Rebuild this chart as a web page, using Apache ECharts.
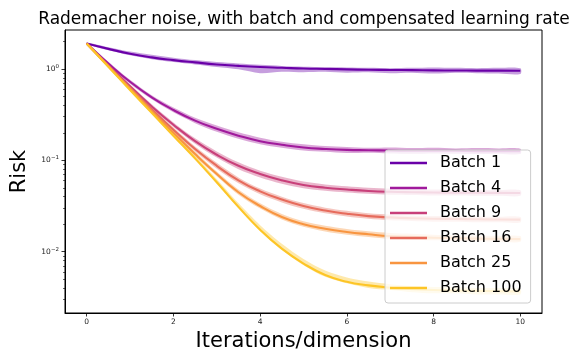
<!DOCTYPE html>
<html>
<head>
<meta charset="utf-8">
<script src="https://cdn.jsdelivr.net/npm/echarts@6/dist/echarts.min.js"></script>
<style>
  html, body { margin: 0; padding: 0; background: #fff; }
  #chart { width: 573px; height: 351px; }
</style>
</head>
<body>
<div id="chart"></div>
<script>
// Iterations per dimension at which the risk is recorded
const iterations = [0, 0.5, 1, 1.5, 2, 2.5, 3, 3.5, 4, 4.5, 5, 5.5, 6, 6.5, 7, 7.5, 8, 8.5, 9, 9.5, 10];

const batchLabels = ['Batch 1', 'Batch 4', 'Batch 9', 'Batch 16', 'Batch 25', 'Batch 100'];
const batchColors = ['#6a00a8', '#a01a9c', '#c8407a', '#e66b5c', '#f89540', '#fdc526'];

// Mean risk curves, one per batch size
const risk1   = [1.90, 1.66, 1.47, 1.34, 1.25, 1.18, 1.12, 1.08, 1.05, 1.03, 1.01, 1.00, 0.99, 0.98, 0.975, 0.97, 0.965, 0.962, 0.96, 0.958, 0.955];
const risk4   = [1.90, 1.148, 0.724, 0.490, 0.355, 0.272, 0.221, 0.186, 0.162, 0.148, 0.138, 0.133, 0.130, 0.129, 0.128, 0.127, 0.127, 0.127, 0.126, 0.126, 0.126];
const risk9   = [1.90, 1.096, 0.646, 0.389, 0.245, 0.162, 0.115, 0.0871, 0.0708, 0.0603, 0.0537, 0.0501, 0.0479, 0.0462, 0.0452, 0.0447, 0.0444, 0.0442, 0.0441, 0.0440, 0.0439];
const risk16  = [1.90, 1.084, 0.624, 0.363, 0.216, 0.133, 0.0871, 0.0603, 0.0457, 0.0372, 0.0316, 0.0282, 0.0260, 0.0245, 0.0237, 0.0232, 0.0229, 0.0228, 0.0226, 0.0225, 0.0224];
const risk25  = [1.90, 1.072, 0.610, 0.347, 0.200, 0.117, 0.0708, 0.0447, 0.0316, 0.0240, 0.0200, 0.0178, 0.0164, 0.0155, 0.0148, 0.0145, 0.0142, 0.0140, 0.0139, 0.0138, 0.0137];
const risk100 = [1.90, 1.059, 0.589, 0.331, 0.186, 0.105, 0.0575, 0.0309, 0.0174, 0.0108, 0.00741, 0.00556, 0.00468, 0.00427, 0.00403, 0.00389, 0.00380, 0.00376, 0.00372, 0.00370, 0.00367];

// Spread of the simulated runs (lower / upper envelope)
const low1    = [1.86, 1.60, 1.41, 1.28, 1.19, 1.12, 1.05, 0.99, 0.90, 0.93, 0.92, 0.93, 0.91, 0.92, 0.90, 0.91, 0.89, 0.91, 0.90, 0.89, 0.88];
const high1   = [1.95, 1.73, 1.55, 1.43, 1.33, 1.25, 1.19, 1.15, 1.11, 1.08, 1.06, 1.05, 1.04, 1.03, 1.02, 1.03, 1.04, 1.03, 1.02, 1.03, 1.02];
const low4    = [1.86, 1.10, 0.69, 0.465, 0.335, 0.255, 0.205, 0.172, 0.150, 0.137, 0.128, 0.124, 0.120, 0.121, 0.119, 0.118, 0.119, 0.118, 0.117, 0.118, 0.117];
const high4   = [1.94, 1.20, 0.76, 0.515, 0.378, 0.292, 0.240, 0.203, 0.177, 0.160, 0.150, 0.143, 0.140, 0.137, 0.138, 0.136, 0.137, 0.135, 0.136, 0.135, 0.134];
const low9    = [1.86, 1.06, 0.62, 0.371, 0.232, 0.152, 0.107, 0.080, 0.065, 0.0555, 0.0495, 0.0465, 0.0445, 0.0430, 0.0420, 0.0418, 0.0413, 0.0412, 0.0410, 0.0410, 0.0408];
const high9   = [1.94, 1.13, 0.675, 0.410, 0.260, 0.174, 0.125, 0.095, 0.077, 0.066, 0.0585, 0.0545, 0.0520, 0.0500, 0.0490, 0.0482, 0.0478, 0.0475, 0.0476, 0.0472, 0.0470];
const low16   = [1.86, 1.05, 0.60, 0.347, 0.205, 0.125, 0.081, 0.056, 0.0425, 0.0346, 0.0294, 0.0263, 0.0243, 0.0229, 0.0221, 0.0217, 0.0213, 0.0213, 0.0210, 0.0210, 0.0209];
const high16  = [1.94, 1.12, 0.65, 0.381, 0.229, 0.142, 0.094, 0.065, 0.049, 0.040, 0.0340, 0.0303, 0.0280, 0.0263, 0.0254, 0.0249, 0.0246, 0.0244, 0.0243, 0.0241, 0.0240];
const low25   = [1.86, 1.04, 0.590, 0.334, 0.191, 0.111, 0.0668, 0.0420, 0.0296, 0.0225, 0.0187, 0.0166, 0.0153, 0.0145, 0.0138, 0.0135, 0.0133, 0.0131, 0.0130, 0.0129, 0.0128];
const high25  = [1.94, 1.10, 0.632, 0.362, 0.210, 0.124, 0.0752, 0.0478, 0.0338, 0.0258, 0.0215, 0.0192, 0.0177, 0.0167, 0.0160, 0.0157, 0.0153, 0.0151, 0.0150, 0.0149, 0.0148];
const low100  = [1.86, 1.03, 0.572, 0.320, 0.179, 0.101, 0.0553, 0.0297, 0.0167, 0.0104, 0.0071, 0.0053, 0.0045, 0.0040, 0.0038, 0.0036, 0.0035, 0.0035, 0.0034, 0.0034, 0.0034];
const high100 = [1.94, 1.09, 0.608, 0.345, 0.196, 0.112, 0.0622, 0.0340, 0.0195, 0.0122, 0.0083, 0.0062, 0.0052, 0.0047, 0.0044, 0.0042, 0.0041, 0.0041, 0.0040, 0.0040, 0.0039];

// Axis ticks
const xTicks = [0, 2, 4, 6, 8, 10];
const yTicks = [0.01, 0.1, 1];
const yMinorTicks = [0.003, 0.004, 0.005, 0.006, 0.007, 0.008, 0.009,
                     0.02, 0.03, 0.04, 0.05, 0.06, 0.07, 0.08, 0.09,
                     0.2, 0.3, 0.4, 0.5, 0.6, 0.7, 0.8, 0.9, 2];

const means = [risk1, risk4, risk9, risk16, risk25, risk100];
const lows  = [low1, low4, low9, low16, low25, low100];
const highs = [high1, high4, high9, high16, high25, high100];

const FONT = 'DejaVu Sans';
const Y_MIN = 0.00213, Y_MAX = 2.67;

function hexToRgba(hex, a) {
  const n = parseInt(hex.slice(1), 16);
  return 'rgba(' + ((n >> 16) & 255) + ',' + ((n >> 8) & 255) + ',' + (n & 255) + ',' + a + ')';
}

// Shaded envelope drawn as one polygon through the axis scales
function bandSeries(k) {
  const rows = iterations.map((x, i) => [x, lows[k][i], highs[k][i]]);
  return {
    type: 'custom',
    name: batchLabels[k] + ' spread',
    coordinateSystem: 'cartesian2d',
    silent: true,
    clip: true,
    z: 2,
    encode: { x: 0, y: [1, 2] },
    data: rows,
    renderItem(params, api) {
      if (params.dataIndex !== 0) return null;
      const upper = rows.map(r => api.coord([r[0], r[2]]));
      const lower = rows.map(r => api.coord([r[0], r[1]])).reverse();
      return {
        type: 'polygon',
        shape: { points: upper.concat(lower), smooth: 0.3 },
        style: { fill: hexToRgba(batchColors[k], 0.38) }
      };
    }
  };
}

function lineSeries(k) {
  return {
    type: 'line',
    name: batchLabels[k],
    data: iterations.map((x, i) => [x, means[k][i]]),
    showSymbol: false,
    symbol: 'none',
    smooth: 0.5,
    z: 3,
    lineStyle: { color: batchColors[k], width: 2.1 },
    itemStyle: { color: batchColors[k] },
    emphasis: { disabled: true }
  };
}

const series = [];
for (let k = 0; k < batchLabels.length; k++) {
  series.push(bandSeries(k));
  series.push(lineSeries(k));
}

function expLabel(v) {
  const e = Math.round(Math.log10(v));
  const s = e < 0 ? '\u2212' + (-e) : String(e);
  return '{b|10}{e|' + s + '}';
}

const chart = echarts.init(document.getElementById('chart'), null, { renderer: 'canvas' });
chart.setOption({
  animation: false,
  backgroundColor: '#fff',
  title: {
    text: 'Rademacher noise, with batch and compensated learning rate',
    left: 304,
    top: 11,
    textAlign: 'center',
    padding: 0,
    textStyle: { fontFamily: FONT, fontSize: 17, fontWeight: 'normal', color: '#000' }
  },
  grid: {
    left: 65, right: 31, top: 30, bottom: 38,
    outerBoundsMode: 'none',
    containLabel: false,
    show: true, borderColor: '#000', borderWidth: 1, backgroundColor: 'transparent'
  },
  legend: {
    data: batchLabels.map((n, k) => ({ name: n, icon: 'rect', itemStyle: { color: batchColors[k] } })),
    orient: 'vertical',
    left: 385,
    top: 150,
    itemWidth: 37,
    itemHeight: 2.5,
    itemGap: 9,
    padding: [5, 9, 7, 5],
    backgroundColor: 'rgba(255,255,255,0.8)',
    borderColor: '#cccccc',
    borderWidth: 1,
    borderRadius: 3,
    selectedMode: false,
    textStyle: { fontFamily: FONT, fontSize: 16, color: '#000', lineHeight: 16, padding: [0, 0, 0, 8] }
  },
  xAxis: {
    type: 'value',
    min: -0.5,
    max: 10.5,
    name: 'Iterations/dimension',
    nameLocation: 'middle',
    nameGap: 18,
    nameTextStyle: { fontFamily: FONT, fontSize: 21, color: '#000' },
    axisLine: { show: true, onZero: false, lineStyle: { color: '#000', width: 1 } },
    axisTick: { show: true, length: 3.5, customValues: xTicks, lineStyle: { color: '#000', width: 0.8 } },
    axisLabel: { customValues: xTicks, margin: 5, fontFamily: FONT, fontSize: 7.5, color: '#222' },
    splitLine: { show: false }
  },
  yAxis: [
    {
      type: 'log',
      min: Y_MIN,
      max: Y_MAX,
      name: 'Risk',
      nameLocation: 'middle',
      nameGap: 31,
      nameTextStyle: { fontFamily: FONT, fontSize: 21, color: '#000' },
      axisLine: { show: true, onZero: false, lineStyle: { color: '#000', width: 1 } },
      axisTick: { show: true, length: 3.5, customValues: yTicks, lineStyle: { color: '#000', width: 0.8 } },
      axisLabel: {
        customValues: yTicks,
        margin: 6,
        formatter: expLabel,
        rich: {
          b: { fontFamily: FONT, fontSize: 7.5, color: '#222' },
          e: { fontFamily: FONT, fontSize: 5.5, color: '#222', verticalAlign: 'top', padding: [0, 0, 5, 0] }
        }
      },
      splitLine: { show: false }
    },
    {
      type: 'log',
      min: Y_MIN,
      max: Y_MAX,
      position: 'left',
      axisLine: { show: false, onZero: false },
      axisTick: { show: true, length: 2, customValues: yMinorTicks, lineStyle: { color: '#000', width: 0.6 } },
      axisLabel: { show: false },
      splitLine: { show: false }
    }
  ],
  series: series
});
</script>
</body>
</html>
